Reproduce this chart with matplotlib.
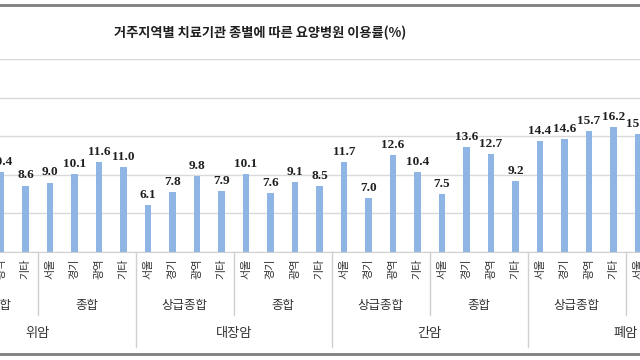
import numpy as np
import matplotlib
matplotlib.use('Agg')
from matplotlib import pyplot as plt
from matplotlib.lines import Line2D

plt.rcParams['font.family'] = ['Noto Sans CJK KR', 'DejaVu Sans']

title = '거주지역별 치료기관 종별에 따른 요양병원 이용률(%)'
cancers = ['위암', '대장암', '간암', '폐암']
hospital_types = ['상급종합', '종합']
regions = ['서울', '경기', '광역', '기타']

# values per cancer / hospital type, in region order; nan = outside the crop
nan = np.nan
stomach = [[nan, nan, 10.4, 8.6], [9.0, 10.1, 11.6, 11.0]]
colorectal = [[6.1, 7.8, 9.8, 7.9], [10.1, 7.6, 9.1, 8.5]]
liver = [[11.7, 7.0, 12.6, 10.4], [7.5, 13.6, 12.7, 9.2]]
lung = [[14.4, 14.6, 15.7, 16.2], [15.3, nan, nan, nan]]


def flatten(groups):
    """Turns the nested cancer/type/region values into one bar series."""
    return [v for cancer in groups for htype in cancer for v in htype]


values = np.array(flatten([stomach, colorectal, liver, lung]))
x = np.arange(len(values))
n_reg = len(regions)
n_type = len(hospital_types) * n_reg

fig = plt.figure(figsize=(6.4, 3.6), dpi=100)
ax = fig.add_axes([0, 0.3, 1, 0.536])

bar_color = '#8fb5e4'
ax.bar(x, values, width=0.27, color=bar_color, zorder=2)
for xi, v in zip(x, values):
    if np.isnan(v):
        continue
    ax.annotate(f'{v:.1f}', (xi, v), xytext=(0, 3), textcoords='offset points',
                ha='center', va='bottom', fontsize=9.5, fontweight='bold',
                family=['Liberation Serif'], color='#1f1f1f')

ax.set_ylim(0, 25)
ax.set_yticks([0, 5, 10, 15, 20, 25])
ax.yaxis.grid(True, color='#d9d9d9', lw=1)
ax.set_axisbelow(True)
ax.tick_params(axis='y', left=False, labelleft=False)
for side in ['left', 'right', 'top']:
    ax.spines[side].set_visible(False)
ax.spines['bottom'].set_color('#d0d0d0')

tick_labels = [regions[i % n_reg] for i in x]
ax.set_xticks(x, tick_labels, rotation=90, fontsize=8, color='#333333')
ax.tick_params(axis='x', length=0, pad=5)

# crop window as in the reference picture
ax.set_xlim(48 / 24.5, 688 / 24.5)

trans = ax.get_xaxis_transform()
sep_color = '#d0d0d0'
for c, cancer in enumerate(cancers):
    start = c * n_type
    for t, htype in enumerate(hospital_types):
        g0 = start + t * n_reg
        ax.text(g0 + (n_reg - 1) / 2, -0.275, htype, transform=trans,
                ha='center', va='center', fontsize=9, color='#333333')
        if t > 0:
            ax.plot([g0 - 0.5, g0 - 0.5], [0, -0.326], transform=trans,
                    color=sep_color, lw=1, clip_on=False)
    ax.text(start + (n_type - 1) / 2, -0.42, cancer, transform=trans,
            ha='center', va='center', fontsize=9.5, color='#333333')
    ax.plot([start - 0.5, start - 0.5], [0, -0.492], transform=trans,
            color=sep_color, lw=1, clip_on=False)

fig.text(0.406, 0.908, title, ha='center', va='center', fontsize=9.5,
         fontweight='bold', color='#1f1f1f')

for y in [0.986, 0.018]:
    fig.add_artist(Line2D([0, 1], [y, y], transform=fig.transFigure,
                          color='#7f7f7f', lw=2))

fig.savefig('out.png', dpi=100)
